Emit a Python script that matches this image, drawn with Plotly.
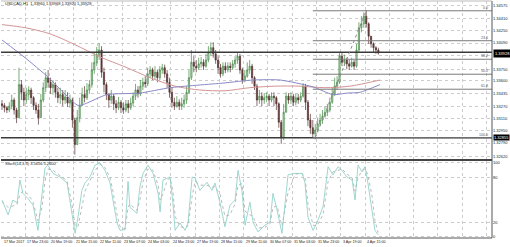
import plotly.graph_objects as go

# ---------------- data ----------------
closes = [1.3328,1.3325,1.3322,1.3327,1.3335,1.3322,1.3312,1.3355,1.3345,1.3335,
 1.3342,1.3348,1.3338,1.3328,1.3322,1.3312,1.3335,1.3351,1.3364,1.3358,
 1.3351,1.3355,1.3345,1.3338,1.3342,1.3335,1.3339,1.3331,1.3335,1.3309,
 1.3277,1.3312,1.3328,1.3342,1.3338,1.3348,1.3355,1.3374,1.3384,1.3394,
 1.3400,1.3371,1.3355,1.3342,1.3335,1.3340,1.3330,1.3325,1.3332,1.3325,
 1.3322,1.3330,1.3325,1.3331,1.3340,1.3348,1.3343,1.3353,1.3358,1.3356,
 1.3369,1.3374,1.3366,1.3371,1.3364,1.3374,1.3377,1.3369,1.3358,1.3345,
 1.3332,1.3327,1.3332,1.3327,1.3330,1.3335,1.3345,1.3364,1.3384,1.3379,
 1.3377,1.3382,1.3384,1.3379,1.3387,1.3397,1.3403,1.3395,1.3387,1.3377,
 1.3369,1.3379,1.3374,1.3379,1.3377,1.3382,1.3387,1.3392,1.3374,1.3361,
 1.3366,1.3374,1.3379,1.3364,1.3353,1.3335,1.3340,1.3335,1.3338,1.3340,
 1.3335,1.3340,1.3338,1.3330,1.3306,1.3286,1.3319,1.3340,1.3335,1.3340,
 1.3332,1.3338,1.3335,1.3340,1.3353,1.3332,1.3309,1.3299,1.3291,1.3296,
 1.3304,1.3309,1.3314,1.3319,1.3322,1.3332,1.3343,1.3353,1.3358,1.3392,
 1.3384,1.3387,1.3382,1.3379,1.3384,1.3379,1.3400,1.3429,1.3434,1.3444,
 1.3434,1.3418,1.3408,1.3403,1.3400,1.3396]
highs = [1.3335,1.3331,1.3327,1.3332,1.3342,1.3338,1.3325,1.3377,1.3361,1.3351,
 1.3351,1.3353,1.3351,1.3340,1.3332,1.3330,1.3343,1.3358,1.3371,1.3374,
 1.3364,1.3361,1.3358,1.3351,1.3351,1.3348,1.3348,1.3345,1.3342,1.3338,
 1.3312,1.3322,1.3338,1.3351,1.3353,1.3357,1.3361,1.3384,1.3397,1.3404,
 1.3409,1.3405,1.3377,1.3358,1.3344,1.3348,1.3343,1.3335,1.3339,1.3335,
 1.3332,1.3335,1.3335,1.3338,1.3345,1.3356,1.3353,1.3361,1.3364,1.3366,
 1.3377,1.3379,1.3377,1.3379,1.3374,1.3379,1.3382,1.3381,1.3374,1.3364,
 1.3351,1.3338,1.3340,1.3336,1.3338,1.3342,1.3353,1.3374,1.3400,1.3392,
 1.3387,1.3390,1.3391,1.3388,1.3395,1.3405,1.3410,1.3410,1.3400,1.3392,
 1.3382,1.3384,1.3384,1.3384,1.3384,1.3387,1.3392,1.3397,1.3395,1.3377,
 1.3374,1.3384,1.3387,1.3382,1.3366,1.3356,1.3348,1.3345,1.3344,1.3345,
 1.3343,1.3345,1.3345,1.3340,1.3332,1.3309,1.3330,1.3345,1.3344,1.3345,
 1.3343,1.3343,1.3343,1.3345,1.3357,1.3356,1.3335,1.3317,1.3309,1.3304,
 1.3312,1.3317,1.3322,1.3327,1.3330,1.3338,1.3351,1.3364,1.3366,1.3397,
 1.3397,1.3394,1.3390,1.3387,1.3390,1.3387,1.3408,1.3436,1.3444,1.3449,
 1.3452,1.3436,1.3418,1.3410,1.3405,1.3403]
lows = [1.3322,1.3319,1.3318,1.3319,1.3323,1.3316,1.3305,1.3312,1.3335,1.3327,
 1.3330,1.3335,1.3330,1.3322,1.3317,1.3303,1.3312,1.3332,1.3345,1.3351,
 1.3343,1.3342,1.3338,1.3331,1.3330,1.3327,1.3330,1.3326,1.3325,1.3299,
 1.3264,1.3277,1.3306,1.3327,1.3332,1.3335,1.3343,1.3351,1.3369,1.3379,
 1.3387,1.3364,1.3345,1.3335,1.3325,1.3330,1.3322,1.3318,1.3322,1.3318,
 1.3317,1.3319,1.3318,1.3322,1.3327,1.3335,1.3338,1.3340,1.3348,1.3351,
 1.3353,1.3364,1.3361,1.3362,1.3358,1.3361,1.3369,1.3364,1.3351,1.3338,
 1.3325,1.3322,1.3325,1.3322,1.3322,1.3325,1.3330,1.3343,1.3361,1.3371,
 1.3371,1.3374,1.3377,1.3374,1.3377,1.3384,1.3392,1.3390,1.3382,1.3369,
 1.3364,1.3366,1.3370,1.3371,1.3371,1.3374,1.3377,1.3382,1.3369,1.3356,
 1.3358,1.3364,1.3369,1.3356,1.3348,1.3327,1.3330,1.3327,1.3330,1.3332,
 1.3327,1.3332,1.3327,1.3322,1.3299,1.3278,1.3283,1.3319,1.3330,1.3330,
 1.3327,1.3328,1.3330,1.3332,1.3338,1.3322,1.3301,1.3291,1.3286,1.3284,
 1.3293,1.3301,1.3304,1.3312,1.3314,1.3319,1.3330,1.3340,1.3348,1.3356,
 1.3379,1.3379,1.3375,1.3374,1.3377,1.3374,1.3377,1.3397,1.3423,1.3429,
 1.3429,1.3408,1.3403,1.3397,1.3395,1.3394]
first_open = 1.3330

# moving averages (bar index, price)
ma_red_bars = [0, 9.5, 19.8, 30, 40.4, 50.7, 61, 71.3, 81.5, 91.8, 102, 112.4, 122.7, 133, 143.3, 155.7]
ma_red_vals = [1.3433, 1.3429, 1.3421, 1.3407, 1.3391, 1.3378, 1.3364, 1.3353, 1.3348, 1.3347,
               1.3351, 1.3353, 1.3353, 1.3351, 1.3353, 1.3361]
ma_blue_bars = [0, 9.5, 18.9, 31.3, 34.2, 43.2, 56.8, 69.2, 91, 103.4, 114.5, 128.1, 136.3, 142.1, 147.4, 155.7]
ma_blue_vals = [1.3413, 1.3390, 1.3365, 1.3328, 1.3330, 1.3342, 1.3344, 1.3351, 1.3357, 1.3361,
                1.3361, 1.3352, 1.3342, 1.3344, 1.3345, 1.3355]

# stochastic (bar index, value)
stoch_bars = [0, 2.5, 4.5, 6.2, 7.4, 8.6, 10.7, 12.8, 14.8, 16.5, 17.7, 18.9, 21.0, 23.9, 26.8, 28.8,
              30.1, 31.3, 32.9, 34.2, 36.2, 38.3, 40.4, 42.4, 44.5, 45.7, 47.4, 48.6, 50.7, 51.9, 52.7,
              53.5, 55.6, 56.8, 58.1, 60.1, 62.2, 64.3, 65.1, 66.3, 68.0, 69.2, 70.4, 71.3, 73.3, 75.4,
              76.6, 78.3, 79.5, 81.5, 84.4, 86.5, 87.7, 89.8, 91.8, 93.9, 96.0, 97.2, 98.8, 100.1, 102.1,
              103.4, 105.4, 108.3, 110.4, 111.6, 113.3, 115.3, 117.8, 120.7, 123.6, 124.8, 126.0, 128.1,
              129.7, 132.2, 134.3, 136.3, 138.4, 140.0, 142.1, 144.2, 145.4, 146.6, 148.3, 149.5, 150.7,
              152.4, 153.6, 154.9]
stoch_main = [50, 30, 50, 46, 77, 59, 52, 43, 9, 63, 93, 97, 86, 81, 73, 32,
              5, 27, 63, 73, 81, 97, 100, 90, 73, 50, 19, 9, 10, 75, 40,
              38, 32, 68, 86, 97, 86, 59, 34, 77, 80, 81, 46, 9, 19, 9,
              19, 81, 80, 63, 74, 63, 73, 46, 14, 43, 50, 90, 63, 16, 47,
              20, 7, 16, 20, 59, 36, 5, 84, 86, 86, 73, 27, 9,
              19, 41, 95, 84, 95, 90, 81, 77, 50, 97, 88, 95, 73,
              36, 9, 3]
stoch_signal = [48, 40, 42, 44, 58, 62, 58, 47, 22, 40, 75, 92, 90, 83, 76, 45,
                15, 14, 42, 62, 76, 90, 98, 94, 80, 62, 30, 14, 11, 40, 45,
                42, 36, 50, 75, 92, 90, 70, 50, 58, 76, 80, 62, 28, 14, 12,
                15, 55, 75, 70, 70, 67, 68, 58, 28, 30, 45, 70, 72, 35, 30,
                28, 12, 13, 18, 40, 42, 15, 60, 85, 86, 80, 45, 16,
                15, 30, 75, 88, 90, 92, 85, 80, 62, 80, 90, 92, 84,
                55, 22, 6]

# levels
resistance_level = 1.3397
support_level = 1.3286
fib_high = 1.3451
fib_low = 1.3286
fib_from_bar, fib_to_bar = 129, 150
fib_ratios = [0.0, 23.6, 38.2, 50.0, 61.8, 100.0]

price_ticks = [1.34575, 1.34410, 1.34250, 1.34090, 1.33930, 1.33750, 1.33600, 1.33435,
               1.33270, 1.33110, 1.32950, 1.32790, 1.32620]
# 1.33930 lies under the current-price box, so its text is hidden there
price_tick_text = ["" if v == 1.33930 else "%.5f" % v for v in price_ticks]
current_price_text = "1.33928"
current_price = 1.3396
support_box_text = "1.32855"

time_labels = ["17 Mar 2017", "17 Mar 23:00", "20 Mar 19:00", "21 Mar 15:00", "22 Mar 11:00",
               "23 Mar 07:00", "24 Mar 03:00", "24 Mar 23:00", "27 Mar 19:00", "28 Mar 15:00",
               "29 Mar 11:00", "30 Mar 07:00", "31 Mar 03:00", "31 Mar 23:00", "3 Apr 19:00",
               "4 Apr 15:00"]
time_label_bars = [0, 9.5, 19.5, 29.5, 39.5, 49.5, 59.5, 69.5, 79.5, 89.5, 99.5, 109.5,
                   119.5, 129.5, 139.5, 149.5]
grid_bars = time_label_bars[1:] + [159.5, 169.5, 179.5, 189.5, 199.5]

title_text = "USDCAD,H1  1.33960 1.33968 1.33920 1.33928"
stoch_text = "Stoch(14,3,3) 3.5656 5.2600"

# ---------------- figure ----------------
bars = list(range(len(closes)))
opens = [first_open] + closes[:-1]
hi = [max(h, o, c) for h, o, c in zip(highs, opens, closes)]
lo = [min(l, o, c) for l, o, c in zip(lows, opens, closes)]

FONT = "Liberation Sans, Arial, sans-serif"
GRID = "#cccccc"
XR = [-0.41, 201.8]

fig = go.Figure()
fig.add_trace(go.Scatter(x=ma_red_bars, y=ma_red_vals, mode="lines",
                         line=dict(color="#d49494", width=1, shape="spline", smoothing=0.8),
                         hoverinfo="skip", showlegend=False, xaxis="x", yaxis="y"))
fig.add_trace(go.Scatter(x=ma_blue_bars, y=ma_blue_vals, mode="lines",
                         line=dict(color="#8a8ac8", width=1, shape="spline", smoothing=0.6),
                         hoverinfo="skip", showlegend=False, xaxis="x", yaxis="y"))
fig.add_trace(go.Candlestick(x=bars, open=opens, high=hi, low=lo, close=closes,
                             increasing=dict(line=dict(color="#3f8a3f", width=0.7), fillcolor="#d4d4d4"),
                             decreasing=dict(line=dict(color="#553030", width=0.7), fillcolor="#6a3a3a"),
                             whiskerwidth=0, showlegend=False, xaxis="x", yaxis="y"))
fig.add_trace(go.Scatter(x=stoch_bars, y=stoch_signal, mode="lines",
                         line=dict(color="#a8a8a8", width=0.8, dash="dot"),
                         hoverinfo="skip", showlegend=False, xaxis="x2", yaxis="y2"))
fig.add_trace(go.Scatter(x=stoch_bars, y=stoch_main, mode="lines",
                         line=dict(color="#86cbc3", width=0.8),
                         hoverinfo="skip", showlegend=False, xaxis="x2", yaxis="y2"))

shapes = []
for lvl in (resistance_level, support_level):
    shapes.append(dict(type="line", xref="x", yref="y", x0=XR[0], x1=XR[1], y0=lvl, y1=lvl,
                       line=dict(color="#3a3a3a", width=1.6), layer="above"))
for r in fib_ratios:
    lvl = fib_high - (fib_high - fib_low) * r / 100.0
    shapes.append(dict(type="line", xref="x", yref="y", x0=fib_from_bar - 1, x1=XR[1], y0=lvl, y1=lvl,
                       line=dict(color="#7a7a7a", width=1), layer="above"))
shapes.append(dict(type="line", xref="x", yref="y", x0=fib_from_bar, x1=fib_to_bar,
                   y0=fib_low, y1=fib_high, line=dict(color="#8a8a8a", width=1, dash="dot")))
shapes.append(dict(type="line", xref="paper", yref="paper", x0=1, x1=1, y0=0, y1=1,
                   line=dict(color="#555555", width=1)))
shapes.append(dict(type="line", xref="paper", yref="paper", x0=0, x1=1, y0=0.3291, y1=0.3291,
                   line=dict(color="#444444", width=2)))
shapes.append(dict(type="line", xref="paper", yref="paper", x0=0, x1=1, y0=0, y1=0,
                   line=dict(color="#555555", width=1)))
shapes.append(dict(type="line", xref="paper", yref="paper", x0=0, x1=1, y0=1, y1=1,
                   line=dict(color="#bbbbbb", width=1)))

ann = []
ann.append(dict(text=title_text, xref="paper", yref="paper", x=0.004, y=0.988, xanchor="left",
                yanchor="middle", showarrow=False, font=dict(size=4, color="#222", family=FONT)))
ann.append(dict(text=stoch_text, xref="paper", yref="paper", x=0.004, y=0.316, xanchor="left",
                yanchor="middle", showarrow=False, font=dict(size=4, color="#222", family=FONT)))
for t, b in zip(time_labels, time_label_bars):
    ann.append(dict(text=t, xref="x2", yref="paper", x=b, y=-0.018, xanchor="left", yanchor="middle",
                    showarrow=False, font=dict(size=3.6, color="#222", family=FONT)))
for r in fib_ratios:
    lvl = fib_high - (fib_high - fib_low) * r / 100.0
    ann.append(dict(text="%.1f" % r, xref="x", yref="y", x=XR[1] - 0.8, y=lvl, xanchor="right",
                    yanchor="bottom", showarrow=False, yshift=-1,
                    font=dict(size=3.6, color="#555", family=FONT)))
ann.append(dict(text=current_price_text, xref="paper", yref="y", x=1.003, y=current_price,
                xanchor="left", yanchor="middle", showarrow=False, bgcolor="#000000", borderpad=1,
                font=dict(size=4, color="#ffffff", family=FONT)))
ann.append(dict(text=support_box_text, xref="paper", yref="y", x=1.003, y=support_level,
                xanchor="left", yanchor="middle", showarrow=False, bgcolor="#000000", borderpad=0,
                font=dict(size=4, color="#ffffff", family=FONT)))

fig.update_layout(
    width=510, height=247,
    margin=dict(l=1, r=18, t=1, b=9),
    paper_bgcolor="white", plot_bgcolor="white",
    shapes=shapes, annotations=ann,
    xaxis=dict(domain=[0, 1], range=XR, anchor="y", tickvals=grid_bars, showticklabels=False,
               showgrid=True, gridcolor=GRID, griddash="dot", gridwidth=1, zeroline=False,
               rangeslider=dict(visible=False), fixedrange=True),
    yaxis=dict(domain=[0.3333, 1], range=[1.32583, 1.34637], side="right", tickvals=price_ticks,
               ticktext=price_tick_text, tickfont=dict(size=4, color="#222", family=FONT),
               showgrid=True, gridcolor=GRID, griddash="dot", zeroline=False, ticks="", ticklen=0),
    xaxis2=dict(domain=[0, 1], range=XR, anchor="y2", tickvals=grid_bars, showticklabels=False,
                showgrid=True, gridcolor=GRID, griddash="dot", zeroline=False),
    yaxis2=dict(domain=[0, 0.3249], range=[-1.35, 102.7], side="right", anchor="x2",
                tickvals=[0, 20, 80, 100], ticktext=["0", "20", "80", "100"],
                tickfont=dict(size=4, color="#222", family=FONT),
                showgrid=True, gridcolor=GRID, griddash="dot", zeroline=False, ticks=""),
)

fig.write_html("out.html")
